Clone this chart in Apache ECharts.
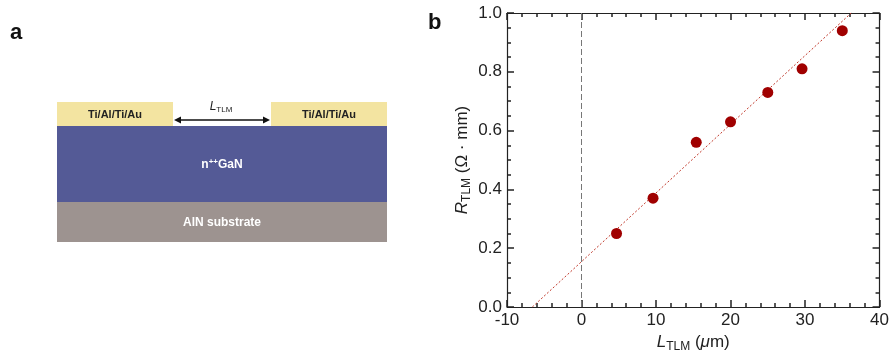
<!DOCTYPE html>
<html>
<head>
<meta charset="utf-8">
<script src="https://cdn.jsdelivr.net/npm/echarts@6/dist/echarts.min.js"></script>
<style>
  html, body { margin: 0; padding: 0; background: #fff; }
  #chart { width: 892px; height: 358px; }
</style>
</head>
<body>
<div id="chart"></div>
<script>
// measured TLM points
var lengthUm = [4.7, 9.6, 15.4, 20.0, 25.0, 29.6, 35.0];
var resistance = [0.25, 0.37, 0.56, 0.63, 0.73, 0.81, 0.94];
// ends of the fitted line
var fitX = [-6.6, 36.2];
var fitY = [0.0, 1.0];
var xTicks = [-10, 0, 10, 20, 30, 40];
var yTicks = [0.0, 0.2, 0.4, 0.6, 0.8, 1.0];

var font = 'Liberation Sans, Arial, sans-serif';
var ink = '#222';
var frameColor = '#222';

function zip(a, b) {
    var out = [];
    for (var i = 0; i < a.length; i++) out.push([a[i], b[i]]);
    return out;
}

// panel a: layer schematic
function layer(x, y, w, h, color) {
    return { type: 'rect', shape: { x: x, y: y, width: w, height: h }, style: { fill: color } };
}
function label(x, y, text, opts) {
    return {
        type: 'text', x: x, y: y,
        style: Object.assign({
            text: text, fontFamily: font, fontWeight: 'bold', fontSize: 11,
            fill: ink, align: 'center', verticalAlign: 'middle'
        }, opts || {})
    };
}

var schematic = [
    layer(57, 102, 116, 24, '#f3e4a1'),
    layer(271, 102, 116, 24, '#f3e4a1'),
    layer(57, 126, 330, 76, '#545a96'),
    layer(57, 202, 330, 40, '#9d9390'),
    label(115, 115, 'Ti/Al/Ti/Au'),
    label(329, 115, 'Ti/Al/Ti/Au'),
    label(222, 165, '{b|n}{sup|++}{b|GaN}', {
        fill: '#fff',
        rich: {
            b: { fontFamily: font, fontWeight: 'bold', fontSize: 12, fill: '#fff' },
            sup: { fontFamily: font, fontWeight: 'bold', fontSize: 8, fill: '#fff', padding: [0, 0, 6, 0] }
        }
    }),
    label(222, 223, 'AlN substrate', { fill: '#fff', fontSize: 12 }),
    label(221, 107, '{i|L}{s|TLM}', {
        rich: {
            i: { fontFamily: font, fontStyle: 'italic', fontSize: 12, fill: ink },
            s: { fontFamily: font, fontSize: 8, fill: ink, padding: [6, 0, 0, 0] }
        }
    }),
    { type: 'line', shape: { x1: 178, y1: 120, x2: 266, y2: 120 }, style: { stroke: '#111', lineWidth: 1.5 } },
    { type: 'polygon', shape: { points: [[174, 120], [181, 116.5], [181, 123.5]] }, style: { fill: '#111' } },
    { type: 'polygon', shape: { points: [[270, 120], [263, 116.5], [263, 123.5]] }, style: { fill: '#111' } },
    { type: 'text', x: 10, y: 22, style: { text: 'a', fontFamily: font, fontWeight: 'bold', fontSize: 22, fill: '#111' } },
    { type: 'text', x: 428, y: 12, style: { text: 'b', fontFamily: font, fontWeight: 'bold', fontSize: 22, fill: '#111' } }
];

function nameRich() {
    return {
        i: { fontFamily: font, fontStyle: 'italic', fontSize: 17, color: ink },
        n: { fontFamily: font, fontSize: 17, color: ink },
        s: { fontFamily: font, fontSize: 12, color: ink, padding: [9, 0, 0, 0] }
    };
}
function ticks(minorSplit) {
    return {
        axisLine: { show: true, onZero: false, lineStyle: { color: frameColor, width: 1.2 } },
        axisTick: { show: true, inside: true, length: 7, lineStyle: { color: frameColor, width: 1.5 } },
        minorTick: { show: true, splitNumber: minorSplit, length: 4, lineStyle: { color: frameColor, width: 1.5 } },
        splitLine: { show: false }
    };
}

var chart = echarts.init(document.getElementById('chart'));
chart.setOption({
    backgroundColor: '#fff',
    animation: false,
    graphic: schematic,
    grid: { left: 507, right: 12, top: 13, bottom: 51 },
    xAxis: [
        Object.assign({
            type: 'value', min: xTicks[0], max: xTicks[xTicks.length - 1], interval: 10,
            axisLabel: { margin: 5, color: ink, fontFamily: font, fontSize: 17 },
            name: '{i|L}{s|TLM}{n| (}{i|μ}{n|m)}', nameLocation: 'middle', nameGap: 24,
            nameTextStyle: { rich: nameRich() }
        }, ticks(5)),
        Object.assign({
            type: 'value', position: 'top', min: xTicks[0], max: xTicks[xTicks.length - 1], interval: 10,
            axisLabel: { show: false }
        }, ticks(5))
    ],
    yAxis: [
        Object.assign({
            type: 'value', min: yTicks[0], max: yTicks[yTicks.length - 1], interval: 0.2,
            axisLabel: { margin: 5, color: ink, fontFamily: font, fontSize: 17, formatter: function (v) { return v.toFixed(1); } },
            name: '{i|R}{s|TLM}{n| (Ω · mm)}', nameLocation: 'middle', nameGap: 34, nameRotate: 90,
            nameTextStyle: { rich: nameRich() }
        }, ticks(4)),
        Object.assign({
            type: 'value', position: 'right', min: yTicks[0], max: yTicks[yTicks.length - 1], interval: 0.2,
            axisLabel: { show: false }
        }, ticks(4))
    ],
    series: [
        {
            type: 'line',
            data: zip(fitX, fitY),
            showSymbol: false,
            lineStyle: { color: '#c0392b', width: 1, type: [2, 2] },
            markLine: {
                silent: true, symbol: 'none', label: { show: false },
                lineStyle: { color: '#777', type: [6, 3], width: 1 },
                data: [{ xAxis: 0 }]
            },
            z: 2
        },
        {
            type: 'scatter',
            data: zip(lengthUm, resistance),
            symbolSize: 11,
            itemStyle: { color: '#a00000', opacity: 1 },
            z: 3
        }
    ]
});
</script>
</body>
</html>
